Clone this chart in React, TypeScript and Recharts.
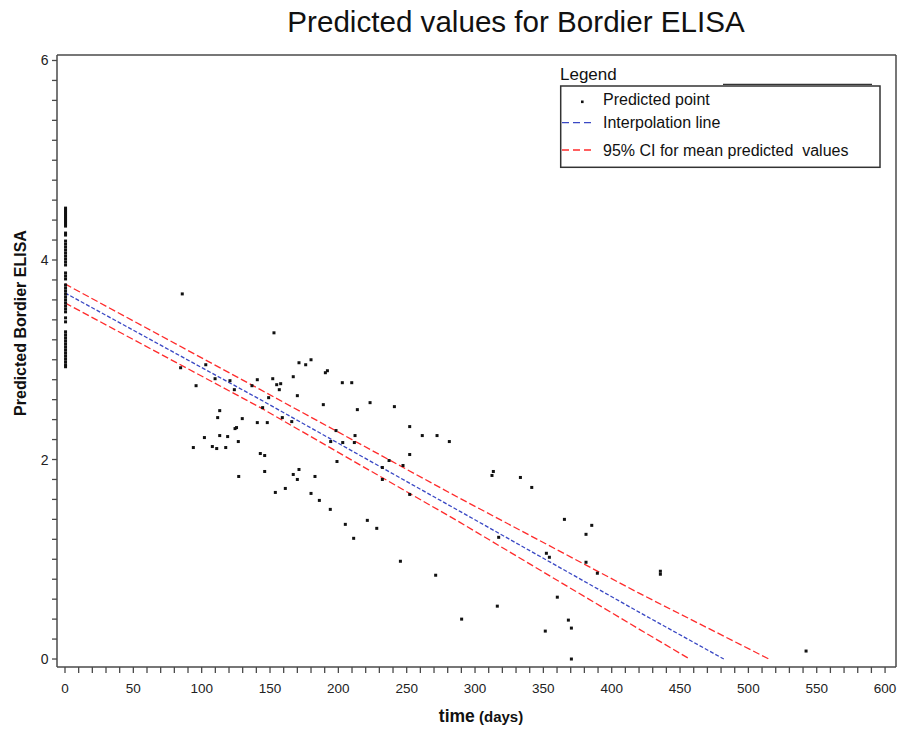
import React from 'react';
import { ComposedChart, Scatter, Line, XAxis, YAxis } from 'recharts';

const FONT = "'Liberation Sans', Arial, sans-serif";
const AXIS_COLOR = '#4a4a4a';

const chartTitle = 'Predicted values for Bordier ELISA';
const xAxisTitle = 'time';
const xAxisUnit = '(days)';
const yAxisTitle = 'Predicted Bordier ELISA';
const legendTitle = 'Legend';
const legendLabels = ['Predicted point', 'Interpolation line', '95% CI for mean predicted  values'];

const xMajorTicks = [0, 50, 100, 150, 200, 250, 300, 350, 400, 450, 500, 550, 600];
const yMajorTicks = [0, 2, 4, 6];
const xAllTicks = Array.from({ length: 61 }, (_, i) => i * 10);
const yAllTicks = Array.from({ length: 31 }, (_, i) => Math.round(i * 2) / 10);

// predicted values observed at day 0
const dayZeroValues = [
  4.52, 4.5, 4.48, 4.46, 4.44, 4.42, 4.4, 4.38, 4.36, 4.34,
  4.27, 4.25,
  4.19, 4.16, 4.13, 4.1, 4.07, 4.04, 4.01, 3.98, 3.95,
  3.87, 3.84, 3.81,
  3.75, 3.72, 3.69, 3.66, 3.63, 3.6, 3.57, 3.54, 3.51, 3.48,
  3.42, 3.38,
  3.28, 3.25, 3.22, 3.19, 3.16, 3.13, 3.1, 3.07, 3.04, 3.01, 2.98, 2.95, 2.93,
];

// predicted points after day 0: [day, value]
const laterPoints: [number, number][] = [
  [85.8, 3.66], [84.6, 2.92], [103, 2.95], [95.9, 2.74], [109.8, 2.81], [120.7, 2.79],
  [123.9, 2.7], [113.2, 2.49], [111.7, 2.42], [124.4, 2.31], [125.5, 2.32], [102, 2.22],
  [113.2, 2.24], [119, 2.23], [126.8, 2.18], [93.9, 2.12], [107.8, 2.13], [111, 2.11],
  [117.6, 2.12], [127.1, 1.83], [152.9, 3.27], [136.8, 2.74], [140.7, 2.8], [152, 2.81],
  [154.9, 2.75], [156.8, 2.7], [149, 2.62], [144.6, 2.52], [129.7, 2.41], [140.7, 2.37],
  [148, 2.37], [142.9, 2.06], [146.1, 2.04], [146.1, 1.88], [153.9, 1.67], [171.2, 2.97],
  [176.1, 2.95], [180, 3.0], [190.5, 2.87], [192, 2.89], [157.8, 2.76], [167, 2.83],
  [170, 2.64], [202.9, 2.77], [209.8, 2.77], [159, 2.42], [165.9, 2.38], [189, 2.55],
  [213.9, 2.5], [223.2, 2.57], [241, 2.53], [252.2, 2.33], [198.3, 2.29], [194.4, 2.18],
  [203.2, 2.17], [212.2, 2.24], [211.7, 2.17], [261.4, 2.24], [272.2, 2.24], [281.2, 2.18],
  [199, 1.98], [237.1, 1.99], [252.2, 2.05], [247.3, 1.94], [232.2, 1.92], [232.2, 1.8],
  [167, 1.85], [171.2, 1.9], [170, 1.8], [182.9, 1.83], [161.2, 1.71], [180, 1.66],
  [186.1, 1.59], [194.1, 1.5], [221.2, 1.39], [205.1, 1.35], [228.1, 1.31], [211.2, 1.21],
  [252.2, 1.65], [245.4, 0.98], [271.2, 0.84], [312.4, 1.84], [313.4, 1.88], [333.2, 1.82],
  [341.5, 1.72], [365.4, 1.4], [385.4, 1.34], [381.2, 1.25], [317.3, 1.22], [352.2, 1.06],
  [354.4, 1.02], [381.2, 0.97], [389.5, 0.86], [360.2, 0.62], [316.3, 0.53], [290.2, 0.4],
  [368.3, 0.39], [370.5, 0.31], [351.4, 0.28], [370.5, 0.0], [435.6, 0.85], [435.6, 0.88],
  [542.2, 0.08],
];

const interpolationLine: [number, number][] = [[0, 3.67], [143, 2.6], [289, 1.48], [420, 0.47], [482, 0]];
const ciUpper: [number, number][] = [[0, 3.76], [143, 2.7], [289, 1.61], [420, 0.66], [515, 0]];
const ciLower: [number, number][] = [[0, 3.57], [143, 2.52], [289, 1.37], [420, 0.3], [457, 0]];

const toXY = (arr: [number, number][]) => arr.map(([x, y]) => ({ x, y }));
const scatterData = [
  ...dayZeroValues.map((y) => ({ x: 0.4, y })),
  ...toXY(laterPoints),
];

const XTick = (props: any) => {
  const { x, y, payload } = props;
  const v = payload.value;
  const major = xMajorTicks.includes(v);
  return (
    <g>
      <line x1={x} x2={x} y1={y} y2={y + 6} stroke={AXIS_COLOR} strokeWidth={1.3} />
      {major && (
        <text x={x} y={y + 26} textAnchor="middle" fontSize={13.5} fill="#222" fontFamily={FONT}>
          {v}
        </text>
      )}
    </g>
  );
};

const YTick = (props: any) => {
  const { x, y, payload } = props;
  const v = payload.value;
  const major = yMajorTicks.some((m) => Math.abs(m - v) < 1e-6);
  return (
    <g>
      <line x1={x - 5} x2={x} y1={y} y2={y} stroke={AXIS_COLOR} strokeWidth={1.3} />
      {major && (
        <text x={x - 8.5} y={y + 5} textAnchor="end" fontSize={14} fill="#222" fontFamily={FONT}>
          {v}
        </text>
      )}
    </g>
  );
};

const Dot = (props: any) => {
  const { cx, cy } = props;
  if (cx == null || cy == null) return <g />;
  return <rect x={cx - 1.5} y={cy - 1.5} width={3} height={3} fill="#111" />;
};

export default function App() {
  return (
    <div style={{ position: 'absolute', left: 0, top: 0, width: 906, height: 729, background: '#fff' }}>
      <ComposedChart width={906} height={729} margin={{ top: 54, right: 9, bottom: 0, left: 0 }}>
        <XAxis
          xAxisId={0}
          dataKey="x"
          type="number"
          domain={[-5.85, 608]}
          allowDataOverflow
          ticks={xAllTicks}
          interval={0}
          height={62}
          tickSize={0}
          tickMargin={0}
          tickLine={false}
          tick={<XTick />}
          axisLine={{ stroke: AXIS_COLOR, strokeWidth: 1.5 }}
        />
        <XAxis
          xAxisId="top"
          orientation="top"
          type="number"
          domain={[-5.85, 608]}
          allowDataOverflow
          height={1}
          tick={false}
          tickLine={false}
          axisLine={{ stroke: AXIS_COLOR, strokeWidth: 1.5 }}
        />
        <YAxis
          yAxisId={0}
          dataKey="y"
          type="number"
          domain={[-0.08, 6.055]}
          allowDataOverflow
          ticks={yAllTicks}
          interval={0}
          width={57}
          tickSize={0}
          tickMargin={0}
          tickLine={false}
          tick={<YTick />}
          axisLine={{ stroke: AXIS_COLOR, strokeWidth: 1.5 }}
        />
        <YAxis
          yAxisId="right"
          orientation="right"
          type="number"
          domain={[-0.08, 6.055]}
          allowDataOverflow
          width={1}
          tick={false}
          tickLine={false}
          axisLine={{ stroke: AXIS_COLOR, strokeWidth: 1.5 }}
        />
        <Line
          data={toXY(ciUpper)}
          dataKey="y"
          type="linear"
          stroke="#ff2b2b"
          strokeWidth={1.3}
          strokeDasharray="7 3"
          dot={false}
          activeDot={false}
          isAnimationActive={false}
        />
        <Line
          data={toXY(ciLower)}
          dataKey="y"
          type="linear"
          stroke="#ff2b2b"
          strokeWidth={1.3}
          strokeDasharray="7 3"
          dot={false}
          activeDot={false}
          isAnimationActive={false}
        />
        <Line
          data={toXY(interpolationLine)}
          dataKey="y"
          type="linear"
          stroke="#3a48c4"
          strokeWidth={1.3}
          strokeDasharray="4 2"
          dot={false}
          activeDot={false}
          isAnimationActive={false}
        />
        <Scatter data={scatterData} dataKey="y" shape={<Dot />} isAnimationActive={false} />
      </ComposedChart>
      <svg
        width={906}
        height={729}
        style={{ position: 'absolute', left: 0, top: 0, pointerEvents: 'none' }}
        fontFamily={FONT}
      >
        <text x={516} y={32} textAnchor="middle" fontSize={29.6} fill="#111">
          {chartTitle}
        </text>
        <text
          transform="translate(26,323) rotate(-90)"
          textAnchor="middle"
          fontSize={16}
          fontWeight="bold"
          fill="#111"
        >
          {yAxisTitle}
        </text>
        <text x={481} y={722} textAnchor="middle" fill="#111" fontWeight="bold">
          <tspan fontSize={17.5}>{xAxisTitle}</tspan>
          <tspan fontSize={15}>{' ' + xAxisUnit}</tspan>
        </text>
        <text x={560} y={80} fontSize={17} fill="#111">
          {legendTitle}
        </text>
        <line x1={723} x2={872} y1={84.3} y2={84.3} stroke="#333" strokeWidth={1.2} />
        <rect x={560.7} y={86} width={319.3} height={81.3} fill="#fff" stroke="#333" strokeWidth={1.5} />
        <rect x={581} y={100.5} width={2.6} height={2.6} fill="#111" />
        <line x1={562} x2={591} y1={122.7} y2={122.7} stroke="#3a48c4" strokeWidth={1.3} strokeDasharray="7 4" />
        <line x1={562} x2={591} y1={150} y2={150} stroke="#ff2b2b" strokeWidth={1.3} strokeDasharray="7 4" />
        <text x={603} y={105} fontSize={16} fill="#111">
          {legendLabels[0]}
        </text>
        <text x={603} y={127.7} fontSize={16} fill="#111">
          {legendLabels[1]}
        </text>
        <text x={603} y={156.4} fontSize={16} fill="#111" style={{ whiteSpace: 'pre' }}>
          {legendLabels[2]}
        </text>
      </svg>
    </div>
  );
}
